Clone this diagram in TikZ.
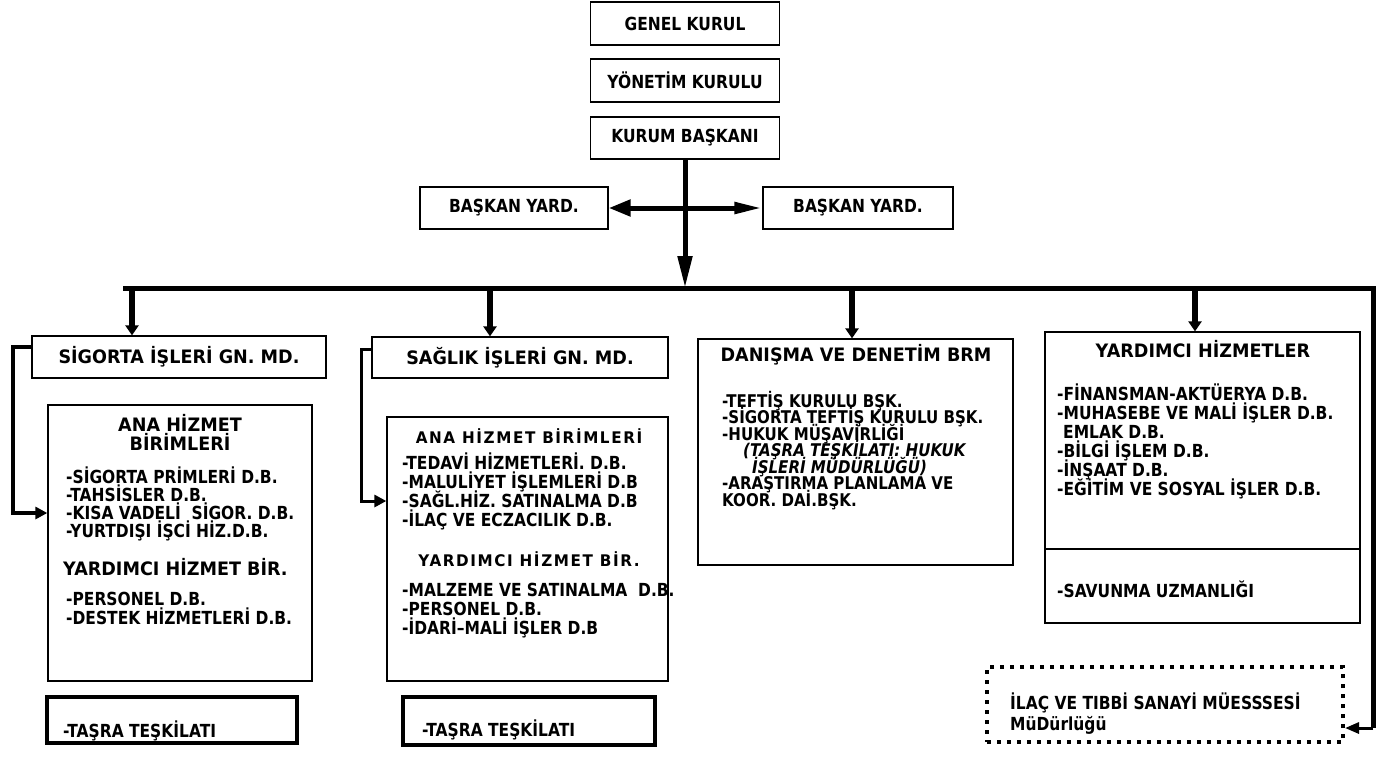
\documentclass[tikz,border=0pt]{standalone}
\usepackage{fontspec}
\setmainfont{DejaVu Sans}[FakeStretch=0.95]
\newfontfamily\itemf{DejaVu Sans}[FakeStretch=0.86]
\newfontfamily\spf{DejaVu Sans}[LetterSpace=10,FakeStretch=0.95]
\usetikzlibrary{arrows.meta,calc}
\tikzset{
  box/.style={draw, line width=1.3pt, rectangle, inner sep=0pt},
  thickbox/.style={draw, line width=4pt, rectangle, inner sep=0pt},
  dotbox/.style={draw, line width=4pt, dash pattern=on 4pt off 6pt, rectangle, inner sep=0pt},
  tt/.style={font=\bfseries\fontsize{18.5}{20}\selectfont, inner sep=0pt},
  sp/.style={font=\spf\bfseries\fontsize{16}{20}\selectfont, inner sep=0pt, anchor=base},
  itm/.style={font=\itemf\bfseries\fontsize{18}{20}\selectfont, inner sep=0pt, anchor=base west},
  itmd/.style={font=\itemf\bfseries\fontsize{17.5}{20}\selectfont, inner sep=0pt, anchor=base west},
  itmi/.style={font=\itemf\bfseries\itshape\fontsize{17.5}{20}\selectfont, inner sep=0pt, anchor=base west},
  topt/.style={font=\itemf\bfseries\fontsize{18}{20}\selectfont},
  drop/.style={line width=6pt, -{Triangle[width=13pt,length=10pt]}},
  mainarr/.style={line width=5pt, -{Triangle[width=14pt,length=32pt]}},
  harr/.style={line width=5pt, {Triangle[width=16pt,length=22pt]}-{Triangle[width=11pt,length=28pt]}},
  conn/.style={line width=4pt, -{Triangle[width=12pt,length=12pt]}},
  conntwo/.style={line width=3pt, -{Triangle[width=12pt,length=12pt]}},
  bus/.style={line width=5pt, line join=miter},
  iarr/.style={line width=3pt, -{Triangle[width=11pt,length=14pt]}}
}
\begin{document}
\begin{tikzpicture}[x=1pt,y=-1pt]
\fill[white] (0,0) rectangle (1378,756);
\useasboundingbox (0,0) rectangle (1378,756);

% top boxes
\node[box, minimum width=189pt, minimum height=43pt, topt] (gk) at (685,23.5) {GENEL KURUL};
\node[box, minimum width=189pt, minimum height=43pt, topt] (yk) at (685,80.5) {YÖNETİM KURULU};
\node[box, minimum width=189pt, minimum height=42pt, topt] (kb) at (685,138) {KURUM BAŞKANI};
\node[box, minimum width=188pt, minimum height=42pt, topt] (byl) at (514,208) {BAŞKAN YARD.};
\node[box, minimum width=190pt, minimum height=42pt, topt] (byr) at (858,208) {BAŞKAN YARD.};

% bus coordinates
\coordinate (bL) at (123,288);
\coordinate (bR) at (1373,288);
\coordinate (rc) at (1373,728);
\coordinate (d1) at (132,288);
\coordinate (d2) at (490,288);
\coordinate (d3) at (852,288);
\coordinate (d4) at (1195,288);

% second level boxes
\node[box, minimum width=294pt, minimum height=42pt, tt] (sig) at (179,357) {SİGORTA İŞLERİ GN. MD.};
\node[box, minimum width=264pt, minimum height=276pt] (sigm) at (180,543) {};
\node[thickbox, minimum width=250pt, minimum height=46pt] (tas1) at (172,720) {};
\node[box, minimum width=296pt, minimum height=41pt, tt] (sag) at (520,357.5) {SAĞLIK İŞLERİ GN. MD.};
\node[box, minimum width=281pt, minimum height=264pt] (sagm) at (527.5,549) {};
\node[thickbox, minimum width=252pt, minimum height=48pt] (tas2) at (529,721) {};
\node[box, minimum width=315pt, minimum height=226pt] (dan) at (855.5,452) {};
\node[box, minimum width=315pt, minimum height=291pt] (yar) at (1202.5,477.5) {};
\coordinate (ydiv) at (1202.5,549);
\node[dotbox, minimum width=356pt, minimum height=75pt] (ilac) at (1165,704.5) {};

% connectors
\draw[mainarr] (kb.south) -- (kb.south |- bL);
\draw[harr] (byl.east) -- (byr.west);
\draw[bus] (bL) -- (bR) -- (rc);
\draw[iarr] (rc) -- (rc -| ilac.east);
\draw[drop] (d1) -- (d1 |- sig.north);
\draw[drop] (d2) -- (d2 |- sag.north);
\draw[drop] (d3) -- (d3 |- dan.north);
\draw[drop] (d4) -- (d4 |- yar.north);
\draw[line width=1.3pt] (ydiv -| yar.west) -- (ydiv -| yar.east);

\coordinate (c1) at (13,347);
\coordinate (c2) at (13,513);
\draw[conn] (sig.west |- c1) -- (c1) -- (c2) -- (c2 -| sigm.west);
\coordinate (c3) at (361,349);
\coordinate (c4) at (361,501);
\draw[conntwo] (sag.west |- c3) -- (c3) -- (c4) -- (c4 -| sagm.west);

% Sigorta main text
\node[tt, anchor=base] (s0a) at (180,431) {ANA HİZMET};
\node[tt, anchor=base] (s0b) at (180,450) {BİRİMLERİ};
\node[itm] (s1) at (66,483) {-SİGORTA PRİMLERİ D.B.};
\node[itm] (s2) at (66,501) {-TAHSİSLER D.B.};
\node[itm] (s3) at (66,519) {-KISA VADELİ~ SİGOR. D.B.};
\node[itm] (s4) at (66,537) {-YURTDIŞI İŞCİ HİZ.D.B.};
\node[tt, anchor=base west] (s5) at (63,575) {YARDIMCI HİZMET BİR.};
\node[itm] (s6) at (66,605) {-PERSONEL D.B.};
\node[itm] (s7) at (66,624) {-DESTEK HİZMETLERİ D.B.};
\node[itm] (t1) at (63,737) {-TAŞRA TEŞKİLATI};

% Saglik main text
\node[sp] (g0) at (529,443) {ANA HİZMET BİRİMLERİ};
\node[itm] (g1) at (402,469) {-TEDAVİ HİZMETLERİ. D.B.};
\node[itm] (g2) at (402,488) {-MALULİYET İŞLEMLERİ D.B};
\node[itm] (g3) at (402,507) {-SAĞL.HİZ. SATINALMA D.B};
\node[itm] (g4) at (402,526) {-İLAÇ VE ECZACILIK D.B.};
\node[sp] (g5) at (529,566) {YARDIMCI HİZMET BİR.};
\node[itm] (g6) at (402,596) {-MALZEME VE SATINALMA~ D.B.};
\node[itm] (g7) at (402,615) {-PERSONEL D.B.};
\node[itm] (g8) at (402,634) {-İDARİ–MALİ İŞLER D.B};
\node[itm] (t2) at (422,736) {-TAŞRA TEŞKİLATI};

% Danisma text
\node[tt, anchor=base] (n0) at (856,361) {DANIŞMA VE DENETİM BRM};
\node[itmd] (n1) at (722,407) {-TEFTİŞ KURULU BŞK.};
\node[itmd] (n2) at (722,423.5) {-SİGORTA TEFTİŞ KURULU BŞK.};
\node[itmd] (n3) at (722,440) {-HUKUK MÜŞAVİRLİĞİ};
\node[itmi] (n4) at (743,456.5) {(TAŞRA TEŞKİLATI: HUKUK};
\node[itmi] (n5) at (752,473) {İŞLERİ MÜDÜRLÜĞÜ)};
\node[itmd] (n6) at (722,489.5) {-ARAŞTIRMA PLANLAMA VE};
\node[itmd] (n7) at (722,506) {KOOR. DAİ.BŞK.};

% Yardimci text
\node[tt, anchor=base] (y0) at (1203,357) {YARDIMCI HİZMETLER};
\node[itm] (y1) at (1057,400) {-FİNANSMAN-AKTÜERYA D.B.};
\node[itm] (y2) at (1057,419) {-MUHASEBE VE MALİ İŞLER D.B.};
\node[itm] (y3) at (1063,438) {EMLAK D.B.};
\node[itm] (y4) at (1057,457) {-BİLGİ İŞLEM D.B.};
\node[itm] (y5) at (1057,476) {-İNŞAAT D.B.};
\node[itm] (y6) at (1057,495) {-EĞİTİM VE SOSYAL İŞLER D.B.};
\node[itm] (y7) at (1057,597) {-SAVUNMA UZMANLIĞI};

% Ilac text
\node[itm] (i1) at (1010,709) {İLAÇ VE TIBBİ SANAYİ MÜESSSESİ};
\node[itm] (i2) at (1010,730) {MüDürlüğü};
\end{tikzpicture}
\end{document}
